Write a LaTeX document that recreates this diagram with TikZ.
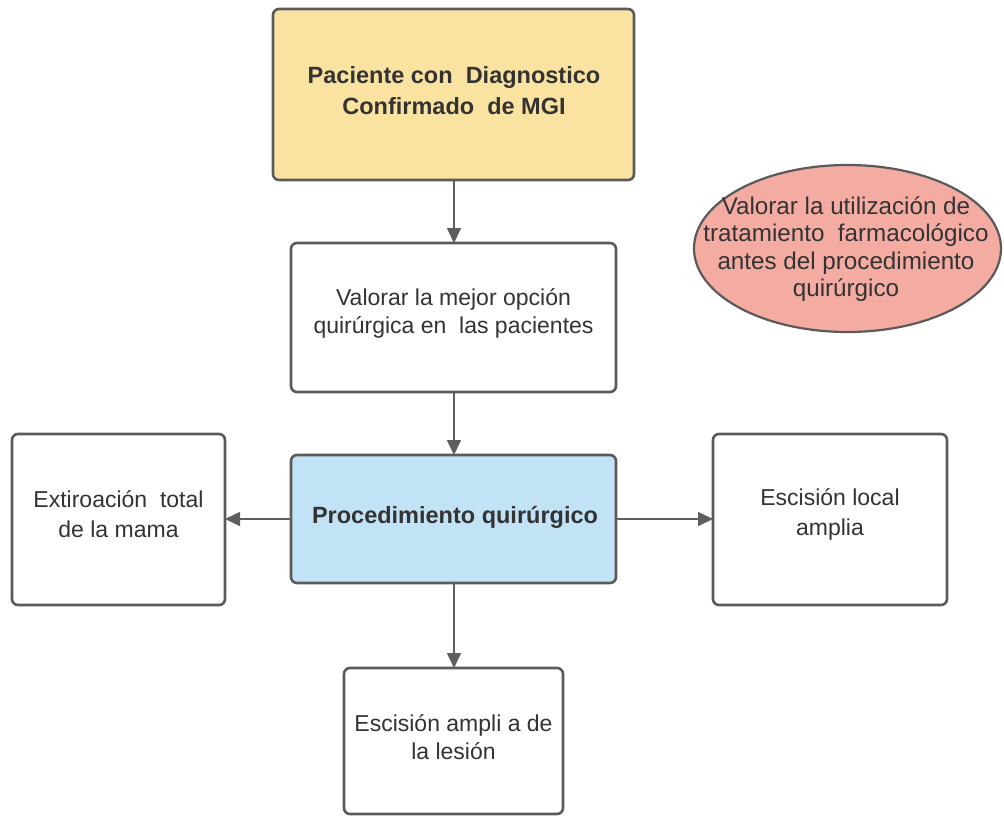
\documentclass[tikz,border=0pt]{standalone}
\usepackage{fontspec}
\setmainfont{Liberation Sans}
\usetikzlibrary{shapes.geometric,arrows.meta}
\definecolor{bordc}{HTML}{5A5A5A}
\definecolor{arrc}{HTML}{5E5E5E}
\definecolor{txtc}{HTML}{333333}
\definecolor{yel}{HTML}{FAE3A0}
\definecolor{blu}{HTML}{C1E3F5}
\definecolor{pnk}{HTML}{F4ABA2}
\tikzset{
  boxst/.style={draw=bordc, line width=2.6pt, rounded corners=6pt},
  lbl/.style={text=txtc, align=center, inner sep=0pt},
  conn/.style={draw=arrc, line width=1.6pt, -{Triangle[length=15pt,width=14pt]}},
}
\begin{document}
\begin{tikzpicture}[x=1pt,y=-1pt]
\useasboundingbox[fill=white] (0,0) rectangle (1004,816);
% boxes
\draw[boxst, fill=yel] (273,9) rectangle (634,180);
\node[lbl, font=\bfseries\fontsize{23.5}{31}\selectfont] (t1) at (454,91) {Paciente con\ \ Diagnostico\\Confirmado\ \ de MGI};
\coordinate (b1s) at (454,180);

\draw[boxst, fill=white] (291,243) rectangle (616,392);
\node[lbl, font=\fontsize{23}{28}\selectfont] (t2) at (453.5,313) {Valorar la mejor opción\\quirúrgica en\ \ las pacientes};
\coordinate (b2n) at (454,243);
\coordinate (b2s) at (454,392);

\draw[boxst, fill=blu] (291,455) rectangle (616,583);
\node[lbl, font=\bfseries\fontsize{23.5}{28}\selectfont] (t3) at (455,517) {Procedimiento quirúrgico};
\coordinate (b3n) at (454,455);
\coordinate (b3s) at (454,583);
\coordinate (b3w) at (291,519);
\coordinate (b3e) at (616,519);

\draw[boxst, fill=white] (12,434) rectangle (225,605);
\node[lbl, font=\fontsize{23}{30}\selectfont] (t4) at (118.5,514) {Extiroación\ \ total\\de la mama};
\coordinate (b4e) at (225,519);

\draw[boxst, fill=white] (713,434) rectangle (947,605);
\node[lbl, font=\fontsize{23}{30}\selectfont] (t5) at (830,514) {Escisión local\\amplia};
\coordinate (b5w) at (713,519);

\draw[boxst, fill=white] (344,668) rectangle (563,814);
\node[lbl, font=\fontsize{23}{28}\selectfont] (t6) at (453.5,737) {Escisión ampli a de\\la lesión};
\coordinate (b6n) at (454,668);

% ellipse
\node[ellipse, draw=bordc, line width=2.2pt, fill=pnk, minimum width=307pt, minimum height=167pt, inner sep=0pt] (el) at (847.5,248.5) {};
\node[lbl, font=\fontsize{24.2}{27.5}\selectfont] (t7) at (846,249) {Valorar la utilización de\\tratamiento\ \ farmacológico\\antes del procedimiento\\quirúrgico};

% connectors
\draw[conn] (b1s) -- (b2n);
\draw[conn] (b2s) -- (b3n);
\draw[conn] (b3w) -- (b4e);
\draw[conn] (b3e) -- (b5w);
\draw[conn] (b3s) -- (b6n);
\end{tikzpicture}
\end{document}
